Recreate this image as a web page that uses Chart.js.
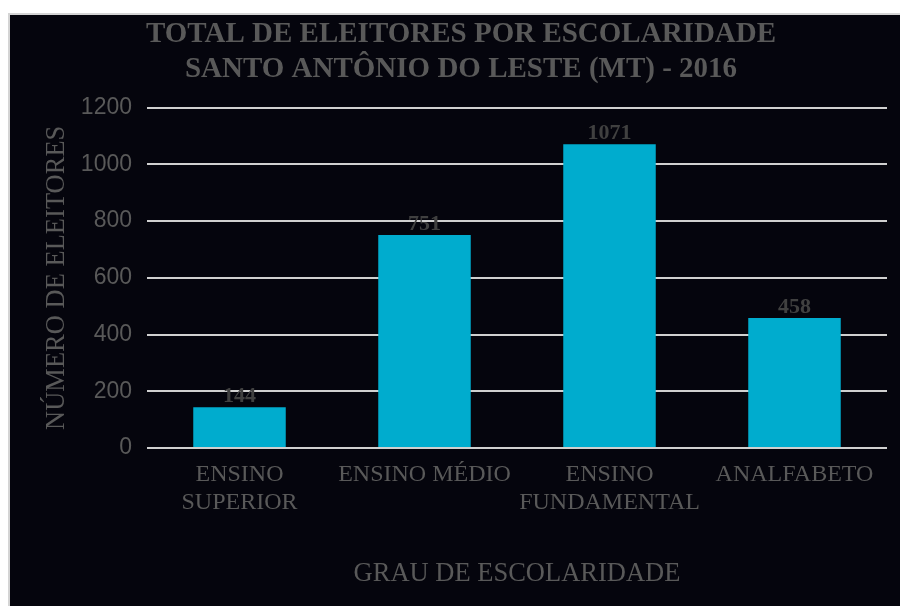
<!DOCTYPE html>
<html>
<head>
<meta charset="utf-8">
<script src="https://cdn.jsdelivr.net/npm/chart.js@4"></script>
<style>
  html, body { margin: 0; padding: 0; background: #ffffff; width: 900px; height: 606px; overflow: hidden; }
  #frame {
    position: absolute; left: 8px; top: 13px; width: 892px; height: 593px;
    box-sizing: border-box; border-top: 2px solid #d4d4d4; border-left: 2px solid #d4d4d4;
    background: #05050d;
  }
  #wrap { position: absolute; left: 0; top: 0; width: 890px; height: 591px; }
</style>
</head>
<body>
<div id="frame"><div id="wrap"><canvas id="chart" width="890" height="591"></canvas></div></div>
<script>
// Eleitores por grau de escolaridade
const categories = [
  ['ENSINO', 'SUPERIOR'],
  'ENSINO MÉDIO',
  ['ENSINO', 'FUNDAMENTAL'],
  'ANALFABETO'
];
const eleitores = [144, 751, 1071, 458];
const yTicks = [0, 200, 400, 600, 800, 1000, 1200];

const titleLines = ['TOTAL DE ELEITORES POR ESCOLARIDADE', 'SANTO ANTÔNIO DO LESTE (MT) - 2016'];
const yTitle = 'NÚMERO DE ELEITORES';
const xTitle = 'GRAU DE ESCOLARIDADE';

const SERIF = '"Liberation Serif", "Times New Roman", serif';
const SANS = '"Liberation Sans", Arial, sans-serif';
const GREY = '#595959';

// Value written above each bar
const barValueLabels = {
  id: 'barValueLabels',
  afterDatasetsDraw(chart) {
    const ctx = chart.ctx;
    const meta = chart.getDatasetMeta(0);
    const data = chart.data.datasets[0].data;
    ctx.save();
    ctx.font = 'bold 22px ' + SERIF;
    ctx.fillStyle = '#404040';
    ctx.textAlign = 'center';
    ctx.textBaseline = 'alphabetic';
    meta.data.forEach((bar, i) => {
      ctx.fillText(String(data[i]), bar.x, bar.y - 5);
    });
    ctx.restore();
  }
};

new Chart(document.getElementById('chart'), {
  type: 'bar',
  data: {
    labels: categories,
    datasets: [{
      data: eleitores,
      backgroundColor: '#00acce',
      borderWidth: 0,
      barPercentage: 0.5,
      categoryPercentage: 1.0
    }]
  },
  options: {
    responsive: false,
    animation: false,
    layout: { padding: { left: 25, right: 13, top: 0, bottom: 0 } },
    plugins: {
      legend: { display: false },
      tooltip: { enabled: false },
      title: {
        display: true,
        text: titleLines,
        color: GREY,
        font: { family: SERIF, size: 29, weight: 'bold', lineHeight: 1.2 },
        padding: { top: 2, bottom: 21 }
      }
    },
    scales: {
      x: {
        grid: { display: false, drawTicks: false },
        border: { display: false },
        ticks: {
          color: GREY,
          font: { family: SERIF, size: 24, lineHeight: 1.2 },
          padding: 12,
          maxRotation: 0,
          autoSkip: false
        },
        title: {
          display: true,
          text: xTitle,
          color: GREY,
          font: { family: SERIF, size: 26.5, lineHeight: 1.2 },
          padding: { top: 0, bottom: 16 }
        },
        afterFit(scale) { scale.height = 158; }
      },
      y: {
        min: 0,
        max: 1200,
        afterBuildTicks(scale) { scale.ticks = yTicks.map(v => ({ value: v })); },
        grid: { color: '#d0d0d0', lineWidth: 2, drawTicks: false },
        border: { display: false },
        ticks: {
          color: GREY,
          font: { family: SANS, size: 23 },
          padding: 15,
          callback: (v) => String(v)
        },
        title: {
          display: true,
          text: yTitle,
          color: GREY,
          font: { family: SERIF, size: 26.5, lineHeight: 1.2 },
          padding: { top: 6, bottom: 0 }
        },
        afterFit(scale) { scale.width = 112; }
      }
    }
  },
  plugins: [barValueLabels]
});
</script>
</body>
</html>
